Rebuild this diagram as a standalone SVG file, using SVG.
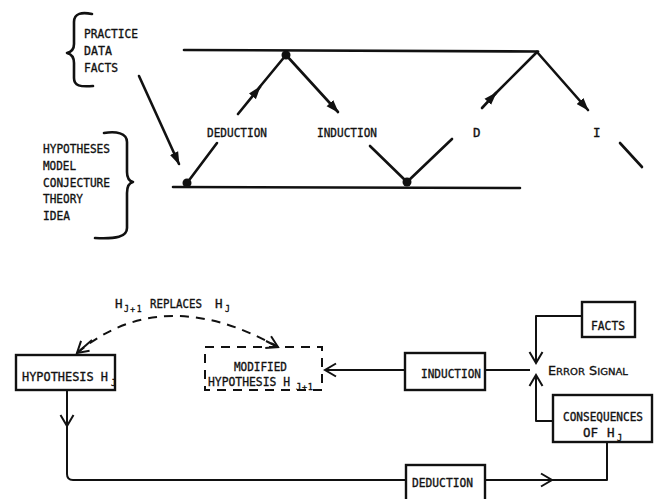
<svg xmlns="http://www.w3.org/2000/svg" width="654" height="499" viewBox="0 0 654 499">
<style>
.t{font-family:"DejaVu Sans Mono","Liberation Mono",monospace;font-size:12.5px;fill:#111;stroke:#111;stroke-width:0.35;}
.s{font-size:8.5px;}
.ln{stroke:#111;stroke-width:2.6;fill:none;stroke-linecap:round;stroke-linejoin:round;}
.lb{stroke:#111;stroke-width:2;fill:none;stroke-linejoin:round;}
.box{stroke:#111;stroke-width:2.4;fill:#fff;}
.dash{stroke:#111;stroke-width:2;fill:none;stroke-dasharray:9 7;}
</style>
<defs>
<marker id="solid" markerUnits="userSpaceOnUse" viewBox="0 0 13 10" markerWidth="13" markerHeight="10" refX="12" refY="5" orient="auto">
<path d="M0,0.5 L13,5 L0,9.5 Z" fill="#111"/>
</marker>
<marker id="vee" markerUnits="userSpaceOnUse" viewBox="-2 -2 15 17" markerWidth="15" markerHeight="17" refX="11" refY="6.5" orient="auto">
<path d="M0,0 L11,6.5 L0,13" fill="none" stroke="#111" stroke-width="2"/>
</marker>
</defs>

<g id="top-lines">
<line class="ln" x1="184" y1="50" x2="538" y2="51.5"/>
<line class="ln" x1="173" y1="187" x2="520" y2="188"/>
<circle cx="187" cy="183" r="4.5" fill="#111"/>
<circle cx="286" cy="55" r="4.5" fill="#111"/>
<circle cx="407" cy="182" r="4.5" fill="#111"/>
</g>

<g id="brace-facts">
<path class="ln" stroke-width="3" d="M92,14 C82,12 74,13 74,22 L74,44 C74,50 71,52 67,53 C71,54 74,57 74,63 L74,78 C74,86 80,87 93,86"/>
<text class="t" x="84" y="38" textLength="54" lengthAdjust="spacingAndGlyphs">PRACTICE</text>
<text class="t" x="84" y="55" textLength="28" lengthAdjust="spacingAndGlyphs">DATA</text>
<text class="t" x="84" y="72" textLength="34" lengthAdjust="spacingAndGlyphs">FACTS</text>
</g>

<g id="brace-hypotheses">
<path class="ln" stroke-width="3" d="M104,133 C116,131 127,133 127,142 L127,172 C127,178 129,181 133,182 C129,183 127,187 127,193 L127,228 C127,237 116,239 95,238"/>
<text class="t" x="43" y="153" textLength="67" lengthAdjust="spacingAndGlyphs">HYPOTHESES</text>
<text class="t" x="43" y="170" textLength="33" lengthAdjust="spacingAndGlyphs">MODEL</text>
<text class="t" x="43" y="187" textLength="67" lengthAdjust="spacingAndGlyphs">CONJECTURE</text>
<text class="t" x="43" y="203" textLength="40" lengthAdjust="spacingAndGlyphs">THEORY</text>
<text class="t" x="43" y="220" textLength="27" lengthAdjust="spacingAndGlyphs">IDEA</text>
</g>

<g id="top-labels">
<text class="t" x="207" y="137" textLength="60" lengthAdjust="spacingAndGlyphs">DEDUCTION</text>
<text class="t" x="317" y="137" textLength="60" lengthAdjust="spacingAndGlyphs">INDUCTION</text>
<text class="t" x="473" y="137">D</text>
<text class="t" x="593" y="137">I</text>
</g>

<g id="connectors">
<line class="ln" x1="139" y1="76" x2="179" y2="164" marker-end="url(#solid)"/>
<line class="ln" x1="187" y1="183" x2="217" y2="143"/>
<path class="ln" d="M238,114 L260,87" marker-end="url(#solid)"/>
<line class="ln" x1="258" y1="89" x2="286" y2="55"/>
<path class="ln" d="M286,55 L338,112" marker-end="url(#solid)"/>
<path class="ln" d="M370,146 L407,182 L452,139"/>
<path class="ln" d="M482,108 L496,93" marker-end="url(#solid)"/>
<line class="ln" x1="494" y1="95" x2="537" y2="52"/>
<path class="ln" d="M537,52 L588,110" marker-end="url(#solid)"/>
<line class="ln" x1="620" y1="143" x2="642" y2="167"/>

<path class="dash" d="M77,353 Q162,282 278,347"/>
<path class="lb" d="M92,340 L77,353" marker-end="url(#vee)"/>
<path class="lb" d="M266,341 L278,347" marker-end="url(#vee)"/>

<path class="lb" d="M67,390 L67,426" marker-end="url(#vee)"/>
<path class="lb" d="M67,424 L67,474 Q67,480 73,480 L406,480"/>
<path class="lb" d="M485,480 L552,480" marker-end="url(#vee)"/>
<path class="lb" d="M550,480 L607,480 L607,442"/>
<path class="lb" d="M405,370 L325,370" marker-end="url(#vee)"/>
<path class="lb" d="M485,370 L530,370"/>
<path class="lb" d="M582,316 L536,316 L536,363" marker-end="url(#vee)"/>
<path class="lb" d="M553,421 L536,421 L536,375" marker-end="url(#vee)"/>
</g>

<g id="replaces-label">
<text class="t" y="308" font-size="11.5"><tspan x="115">H</tspan><tspan x="124" dy="4" font-size="8" letter-spacing="1.5">J+1</tspan><tspan x="150" dy="-4" textLength="52" lengthAdjust="spacingAndGlyphs">REPLACES</tspan><tspan x="215">H</tspan><tspan x="225" dy="4" font-size="8">J</tspan></text>
</g>

<g id="hypothesis">
<rect class="box" x="16" y="355" width="99" height="35"/>
<text class="t" y="381"><tspan x="22" textLength="86" lengthAdjust="spacingAndGlyphs">HYPOTHESIS H</tspan><tspan class="s" x="111" dy="5">J</tspan></text>
</g>

<g id="modified">
<rect class="dash" x="205" y="347" width="117" height="43"/>
<text class="t" x="234" y="371" textLength="53" lengthAdjust="spacingAndGlyphs">MODIFIED</text>
<text class="t" y="386" font-size="11.8"><tspan x="208" textLength="82" lengthAdjust="spacingAndGlyphs">HYPOTHESIS H</tspan><tspan class="s" x="296" dy="3.5" letter-spacing="0.8">J+1</tspan></text>
</g>

<g id="induction">
<rect class="box" x="405" y="353" width="80" height="37"/>
<text class="t" x="421" y="378" textLength="60" lengthAdjust="spacingAndGlyphs">INDUCTION</text>
</g>

<g id="facts">
<rect class="box" x="582" y="302" width="53" height="35"/>
<text class="t" x="591" y="330" textLength="34" lengthAdjust="spacingAndGlyphs">FACTS</text>
</g>

<g id="error-signal">
<text x="548" y="375" font-family="'DejaVu Sans','Liberation Sans',sans-serif" font-size="11.5" fill="#111" stroke="#111" stroke-width="0.3" textLength="80" lengthAdjust="spacingAndGlyphs">E<tspan font-size="9">RROR</tspan> S<tspan font-size="9">IGNAL</tspan></text>
</g>

<g id="consequences">
<rect class="box" x="553" y="395" width="99" height="47"/>
<text class="t" x="563" y="421" font-size="12" textLength="80" lengthAdjust="spacingAndGlyphs">CONSEQUENCES</text>
<text class="t" y="437"><tspan x="583">OF</tspan><tspan x="607">H</tspan><tspan class="s" x="617" dy="4">J</tspan></text>
</g>

<g id="deduction">
<rect class="box" x="406" y="465" width="79" height="40"/>
<text class="t" x="412" y="487" textLength="61" lengthAdjust="spacingAndGlyphs">DEDUCTION</text>
</g>
</svg>
